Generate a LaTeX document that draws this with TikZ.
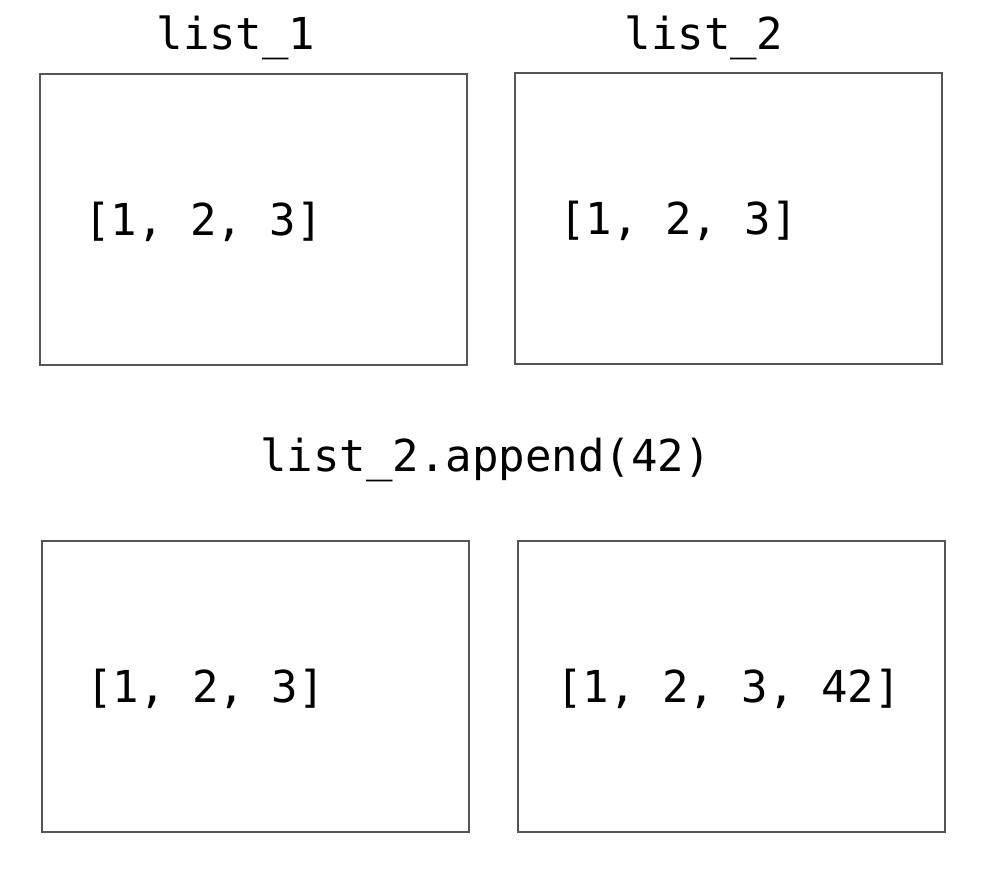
\documentclass[tikz,border=0pt]{standalone}
\usepackage{fontspec}
\setmonofont{DejaVu Sans Mono}
\usetikzlibrary{positioning}
\definecolor{boxgray}{HTML}{555555}
\tikzset {
  % memory box for one list object
  frame/.style = {draw=boxgray, line width=1.2pt, minimum width=427pt, minimum height=291pt, inner sep=0pt},
  % monospace code text
  code/.style = {font=\ttfamily\fontsize{44}{50}\selectfont, inner sep=0pt},
  content/.style = {code, anchor=west},
}
\begin{document}
\begin{tikzpicture}[x=1pt, y=-1pt]
        \useasboundingbox (0, 0) rectangle (985, 876);

        \node[frame] (box1) at (253.5, 219.5) {};
        \node[frame] (box2) at (728.5, 218.5) {};
        \node[frame] (box3) at (255.5, 686.5) {};
        \node[frame] (box4) at (731.5, 686.5) {};

        \node[code] (name1) at (236, 38) {list\_1};
        \node[code] (name2) at (704, 38) {list\_2};
        \node[code] (call) at (485.5, 460) {list\_2.append(42)};

        \node[content] (val1) at (84, 222) {[1, 2, 3]};
        \node[content] (val2) at (559, 221) {[1, 2, 3]};
        \node[content] (val3) at (86, 689) {[1, 2, 3]};
        \node[content] (val4) at (556, 689) {[1, 2, 3, 42]};
      \end{tikzpicture}
\end{document}
